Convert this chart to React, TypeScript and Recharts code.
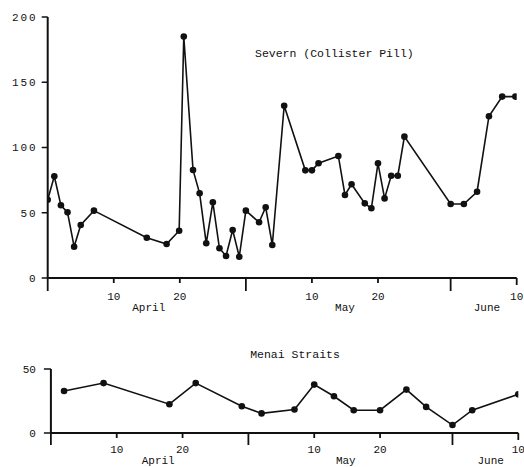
import React from "react";
import { LineChart, Line, XAxis, YAxis, Customized } from "recharts";

// Day number counted from 31 March (April d = d, May d = 30 + d, June d = 61 + d)
const severnDays = [0, 1, 2, 3, 4, 5, 7, 15, 18, 19.9, 20.6, 22, 23, 24, 25, 26, 27, 28, 29, 30, 32, 33, 34, 35.8, 39, 40, 41, 44, 45, 46, 48, 49, 50, 51, 52, 53, 54, 61, 63, 65, 66.8, 68.8, 70.8];
const severnValues = [60, 78, 55.7, 50.3, 24, 40.6, 51.6, 30.9, 26, 36.2, 185, 82.8, 64.9, 26.6, 58, 22.8, 16.9, 36.8, 16.3, 51.6, 42.7, 54.2, 25.3, 132, 82.5, 82.5, 87.9, 93.5, 63.6, 71.8, 57.2, 53.4, 87.9, 61, 78.4, 78.4, 108.3, 56.7, 56.7, 66.1, 124, 139, 139];

const menaiDays = [2, 8, 18, 22, 29, 32, 37, 40, 43, 46, 50, 54, 57, 61, 64, 71];
const menaiValues = [32.8, 39, 22.5, 39, 20.9, 15.3, 18.4, 37.8, 28.7, 17.8, 17.8, 33.9, 20.4, 6.2, 17.8, 30.2];

const dayTicks = [0, 10, 20, 30, 40, 50, 61, 71];
const dayTickLabels = ["", "10", "20", "", "10", "20", "", "10"];
const longTickDays = [0, 30, 61];

const monthNames = ["April", "May", "June"];
const severnMonthPos = [15.3, 45, 66.5];
const menaiMonthPos = [16.3, 44.8, 66.8];

const severnYTicks = [0, 50, 100, 150, 200];
const menaiYTicks = [0, 50];

const severnTitle = "Severn (Collister Pill)";
const menaiTitle = "Menai Straits";

const INK = "#111111";
const FONT = "'Liberation Mono', 'DejaVu Sans Mono', monospace";

const severnData = severnDays.map((d, i) => ({ day: d, v: severnValues[i] }));
const menaiData = menaiDays.map((d, i) => ({ day: d, v: menaiValues[i] }));

function makeDayTick(labelDy: number, longLen: number) {
  return (props: any) => {
    const { x, y, payload } = props;
    const v = payload.value;
    const idx = dayTicks.indexOf(v);
    const label = idx >= 0 ? dayTickLabels[idx] : "";
    const len = longTickDays.includes(v) ? longLen : v === 71 ? 7 : 5;
    return (
      <g>
        <line x1={x} x2={x} y1={y} y2={y + len} stroke={INK} strokeWidth={1.8} />
        {label ? (
          <text x={x} y={y + labelDy} textAnchor="middle" fill={INK} fontSize={11} fontFamily={FONT}>
            {label}
          </text>
        ) : null}
      </g>
    );
  };
}

function makeMonthTick(positions: number[], dy: number) {
  return (props: any) => {
    const { x, y, payload } = props;
    const idx = positions.indexOf(payload.value);
    return (
      <text x={x} y={y + dy} textAnchor="middle" fill={INK} fontSize={11} fontFamily={FONT}>
        {idx >= 0 ? monthNames[idx] : ""}
      </text>
    );
  };
}

export default function App() {
  return (
    <div style={{ position: "absolute", left: 0, top: 0, width: 524, height: 467, background: "#fff", overflow: "hidden" }}>
      <div style={{ position: "absolute", left: 0, top: 0 }}>
        <LineChart width={524} height={330} data={severnData} margin={{ top: 17, right: 7.3, left: 0.7, bottom: 0 }}>
          <XAxis
            xAxisId="d"
            dataKey="day"
            type="number"
            domain={[0, 71]}
            ticks={dayTicks}
            interval={0}
            height={22}
            tickSize={0}
            tickMargin={0}
            tickLine={false}
            allowDataOverflow
            axisLine={{ stroke: INK, strokeWidth: 2 }}
            tick={makeDayTick(22, 13)}
          />
          <XAxis
            xAxisId="m"
            dataKey="day"
            type="number"
            domain={[0, 71]}
            ticks={severnMonthPos}
            interval={0}
            height={30}
            tickSize={0}
            tickMargin={0}
            tickLine={false}
            allowDataOverflow
            axisLine={false}
            tick={makeMonthTick(severnMonthPos, 11)}
          />
          <YAxis
            type="number"
            domain={[0, 200]}
            ticks={severnYTicks}
            interval={0}
            width={47}
            tickSize={6}
            tickMargin={4}
            axisLine={{ stroke: INK, strokeWidth: 2 }}
            tickLine={{ stroke: INK, strokeWidth: 1.5 }}
            tick={{ fill: INK, fontSize: 11, fontFamily: FONT, letterSpacing: 2 }}
          />
          <Line
            xAxisId="d"
            dataKey="v"
            type="linear"
            stroke={INK}
            strokeWidth={1.6}
            dot={{ r: 3.3, fill: INK, stroke: INK, strokeWidth: 0 }}
            isAnimationActive={false}
          />
          <Customized
            component={() => (
              <text x={255} y={57} fill={INK} fontSize={11.5} fontFamily={FONT}>
                {severnTitle}
              </text>
            )}
          />
        </LineChart>
      </div>
      <div style={{ position: "absolute", left: 0, top: 330 }}>
        <LineChart width={524} height={137} data={menaiData} margin={{ top: 39, right: 5.7, left: 0, bottom: 0 }}>
          <XAxis
            xAxisId="d"
            dataKey="day"
            type="number"
            domain={[0, 71]}
            ticks={dayTicks}
            interval={0}
            height={20}
            tickSize={0}
            tickMargin={0}
            tickLine={false}
            allowDataOverflow
            axisLine={{ stroke: INK, strokeWidth: 2 }}
            tick={makeDayTick(20, 12)}
          />
          <XAxis
            xAxisId="m"
            dataKey="day"
            type="number"
            domain={[0, 71]}
            ticks={menaiMonthPos}
            interval={0}
            height={14}
            tickSize={0}
            tickMargin={0}
            tickLine={false}
            allowDataOverflow
            axisLine={false}
            tick={makeMonthTick(menaiMonthPos, 11)}
          />
          <YAxis
            type="number"
            domain={[0, 50]}
            ticks={menaiYTicks}
            interval={0}
            width={50.9}
            tickSize={7}
            tickMargin={8}
            axisLine={{ stroke: INK, strokeWidth: 2 }}
            tickLine={{ stroke: INK, strokeWidth: 1.5 }}
            tick={{ fill: INK, fontSize: 11, fontFamily: FONT }}
          />
          <Line
            xAxisId="d"
            dataKey="v"
            type="linear"
            stroke={INK}
            strokeWidth={1.6}
            dot={{ r: 3.3, fill: INK, stroke: INK, strokeWidth: 0 }}
            isAnimationActive={false}
          />
          <Customized
            component={() => (
              <text x={295} y={28} textAnchor="middle" fill={INK} fontSize={11.5} fontFamily={FONT}>
                {menaiTitle}
              </text>
            )}
          />
        </LineChart>
      </div>
    </div>
  );
}
